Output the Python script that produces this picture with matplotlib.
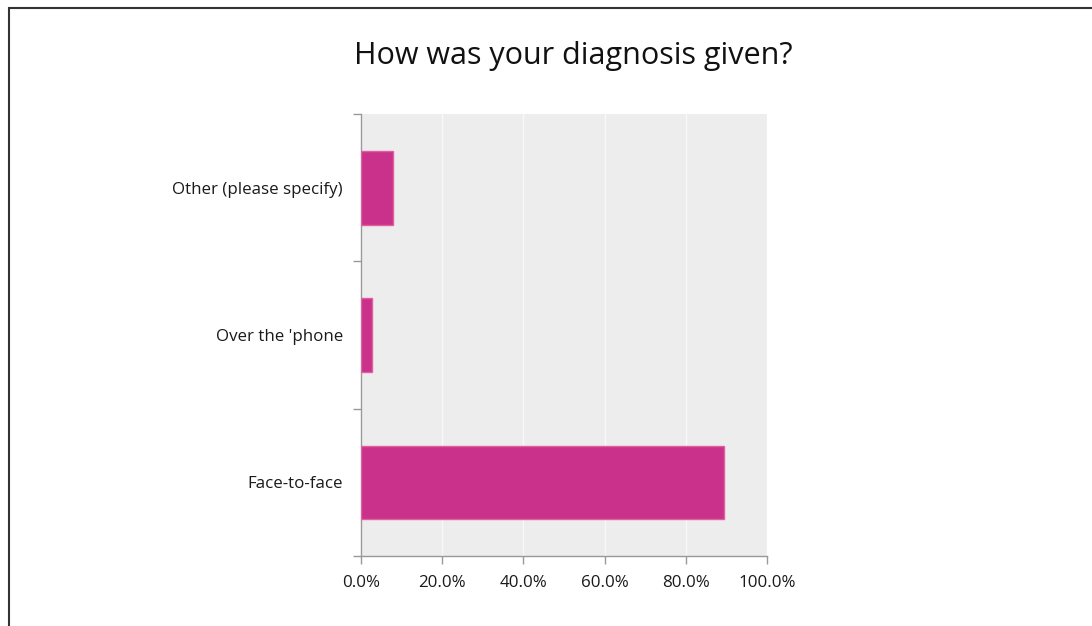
import matplotlib
matplotlib.use("Agg")
import matplotlib.pyplot as plt
from matplotlib.patches import Rectangle
from matplotlib.ticker import FuncFormatter

# Survey answers, bottom to top as drawn
categories = ["Face-to-face", "Over the 'phone", "Other (please specify)"]
shares = [89.5, 2.7, 7.9]
x_ticks = [0, 20, 40, 60, 80, 100]

plt.rcParams['font.family'] = ['Open Sans', 'DejaVu Sans']

W, H = 1092, 626
fig = plt.figure(figsize=(W / 100, H / 100), dpi=100)

# plot area in pixel terms
left, right, top, bottom = 361, 767, 114, 556
ax = fig.add_axes([left / W, 1 - bottom / H, (right - left) / W, (bottom - top) / H])

ax.set_facecolor('#ededed')
ypos = range(len(categories))
ax.barh(ypos, shares, height=0.5, color='#c9318a', edgecolor='#e0609f', linewidth=1, zorder=3)

ax.set_xlim(0, 100)
ax.set_ylim(-0.5, len(categories) - 0.5)
ax.set_xticks(x_ticks)
ax.xaxis.set_major_formatter(FuncFormatter(lambda v, p: "{:.1f}%".format(v)))
ax.set_yticks(ypos)
ax.set_yticklabels(categories)

# ticks on the y axis sit between categories, labels in the middle
ax.set_yticks([i - 0.5 for i in range(len(categories) + 1)], minor=True)
ax.tick_params(axis='y', which='major', length=0, pad=13, labelsize=12.2, labelcolor='#1a1a1a')
ax.tick_params(axis='y', which='minor', length=6, color='#999999', width=1)
ax.tick_params(axis='x', length=6, color='#999999', width=1, pad=8, labelsize=12.2, labelcolor='#1a1a1a')

ax.grid(axis='x', color='#f8f8f8', linewidth=1, zorder=0)
ax.set_axisbelow(True)
for s in ['top', 'right']:
    ax.spines[s].set_visible(False)
for s in ['left', 'bottom']:
    ax.spines[s].set_color('#999999')
    ax.spines[s].set_linewidth(1)

fig.text(573 / W, 1 - 56 / H, "How was your diagnosis given?", ha='center', va='center',
         fontsize=22, color='#111111')

# frame around the chart, runs off the right and bottom edges
fig.patches.append(Rectangle((9 / W, -0.1), 1.2, 1 - 8 / H + 0.1, transform=fig.transFigure,
                             fill=False, edgecolor='#333333', linewidth=1.5))

fig.savefig("out.png", dpi=100)
